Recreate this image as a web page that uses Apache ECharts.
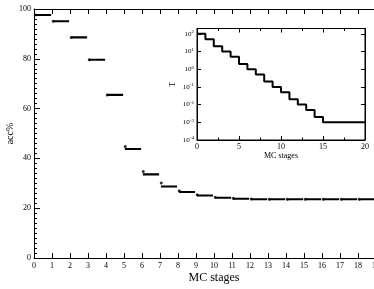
<!DOCTYPE html>
<html>
<head>
<meta charset="utf-8">
<script src="https://cdn.jsdelivr.net/npm/echarts@6/dist/echarts.min.js"></script>
<style>
html,body{margin:0;padding:0;background:#fff;}
#c{width:374px;height:289px;}
</style>
</head>
<body>
<div id="c"></div>
<script>
// Main plot: acceptance ratio per MC stage
var stages = [0,1,2,3,4,5,6,7,8,9,10,11,12,13,14,15,16,17,18,19];
var accPlateau = [97.6,95.1,88.6,79.6,65.5,43.8,33.6,28.7,26.5,25.1,24.2,23.8,23.6,23.6,23.6,23.6,23.6,23.6,23.6,23.6];
var accStart   = [97.6,95.1,88.6,79.6,65.5,44.8,34.7,30.1,27.0,25.4,24.4,24.0,23.7,23.6,23.6,23.6,23.6,23.6,23.6,23.6];
var stageFrom = 0.05, stageTo = 0.95, startOffset = 0.07;
// Inset: temperature per MC stage (log scale)
var tStages = [0,1,2,3,4,5,6,7,8,9,10,11,12,13,14,15,16,17,18,19,20];
var temperature = [100,50,20,10,5,2,1,0.5,0.2,0.1,0.05,0.02,0.01,0.005,0.002,0.001,0.001,0.001,0.001,0.001,0.001];
var mainYTicks = [0,20,40,60,80,100];

var FONT = 'Liberation Serif';
var segData = [];
stages.forEach(function(s,i){
  segData.push([s+stageFrom, accPlateau[i]]);
  segData.push([s+stageTo, accPlateau[i]]);
  segData.push([s+stageTo+0.02, '-']);
});
var startData = stages.map(function(s,i){ return [s+startOffset, accStart[i]]; });
var tData = tStages.map(function(s,i){ return [s, temperature[i]]; });

function logLabel(v){
  var e = Math.log10(v);
  var r = Math.round(e);
  if (Math.abs(e-r) > 1e-6) return '';
  return '10{s|' + r + '}';
}

var chart = echarts.init(document.getElementById('c'), null, {renderer:'canvas'});
chart.setOption({
  animation:false,
  backgroundColor:'#fff',
  grid:[
    {left:34, right:-20, top:9, bottom:31, show:false, containLabel:false, outerBoundsMode:'none'},
    {left:197, top:28.5, width:168, height:111.5, show:true, borderColor:'#000', borderWidth:1, backgroundColor:'#fff', z:3, containLabel:false, outerBoundsMode:'none'}
  ],
  xAxis:[
    {gridIndex:0, type:'value', min:0, max:20, interval:1, position:'bottom',
     name:'MC stages', nameLocation:'middle', nameGap:14, nameMoveOverlap:false,
     nameTextStyle:{fontFamily:FONT, fontSize:12, color:'#000'},
     axisLine:{show:true, onZero:false, lineStyle:{color:'#000', width:1}},
     axisTick:{show:true, inside:true, length:5, lineStyle:{color:'#000'}},
     axisLabel:{fontFamily:FONT, fontSize:8, color:'#000', margin:4, showMaxLabel:true, hideOverlap:false},
     splitLine:{show:false}},
    {gridIndex:0, type:'value', min:0, max:20, interval:1, position:'top',
     axisLine:{show:true, onZero:false, lineStyle:{color:'#000', width:1}},
     axisTick:{show:true, inside:true, length:5, lineStyle:{color:'#000'}},
     axisLabel:{show:false}, splitLine:{show:false}},
    {gridIndex:1, type:'value', min:0, max:20, interval:5, position:'bottom',
     name:'MC stages', nameLocation:'middle', nameGap:12, nameMoveOverlap:false,
     nameTextStyle:{fontFamily:FONT, fontSize:8, color:'#000'},
     axisLine:{show:true, onZero:false, lineStyle:{color:'#000', width:1}},
     axisTick:{show:true, inside:true, length:4, lineStyle:{color:'#000'}},
     minorTick:{show:true, splitNumber:2, length:2.5, lineStyle:{color:'#000'}},
     axisLabel:{fontFamily:FONT, fontSize:8, color:'#000', margin:3},
     splitLine:{show:false}, z:4},
    {gridIndex:1, type:'value', min:0, max:20, interval:5, position:'top',
     axisLine:{show:true, onZero:false, lineStyle:{color:'#000', width:1}},
     axisTick:{show:true, inside:true, length:4, lineStyle:{color:'#000'}},
     minorTick:{show:true, splitNumber:2, length:2.5, lineStyle:{color:'#000'}},
     axisLabel:{show:false}, splitLine:{show:false}, z:4}
  ],
  yAxis:[
    {gridIndex:0, type:'value', min:mainYTicks[0], max:mainYTicks[mainYTicks.length-1], interval:20, position:'left',
     name:'acc%', nameLocation:'middle', nameGap:19, nameMoveOverlap:false,
     nameTextStyle:{fontFamily:FONT, fontSize:10, color:'#000'},
     axisLine:{show:true, onZero:false, lineStyle:{color:'#000', width:1}},
     axisTick:{show:true, inside:true, length:6, lineStyle:{color:'#000'}},
     minorTick:{show:true, splitNumber:10, length:3, lineStyle:{color:'#000'}},
     axisLabel:{fontFamily:FONT, fontSize:8, color:'#000', margin:3},
     splitLine:{show:false}, minorSplitLine:{show:false}},
    {gridIndex:1, type:'log', logBase:10, min:1e-4, max:200, position:'left',
     name:'T', nameLocation:'middle', nameGap:20, nameRotate:90, nameMoveOverlap:false,
     nameTextStyle:{fontFamily:FONT, fontSize:8, color:'#000'},
     axisLine:{show:true, onZero:false, lineStyle:{color:'#000', width:1}},
     axisTick:{show:true, inside:true, length:4, lineStyle:{color:'#000'}},
     axisLabel:{fontFamily:FONT, fontSize:7, color:'#000', margin:3, formatter:logLabel,
       rich:{s:{fontFamily:FONT, fontSize:5, color:'#000', verticalAlign:'top', padding:[0,0,4,0]}}},
     splitLine:{show:false}, z:4},
    {gridIndex:1, type:'log', logBase:10, min:1e-4, max:200, position:'right',
     axisLine:{show:true, onZero:false, lineStyle:{color:'#000', width:1}},
     axisTick:{show:true, inside:true, length:4, lineStyle:{color:'#000'}},
     axisLabel:{show:false}, splitLine:{show:false}, z:4}
  ],
  series:[
    {type:'line', xAxisIndex:0, yAxisIndex:0, data:segData, showSymbol:false, symbol:'none',
     connectNulls:false, lineStyle:{color:'#000', width:2.1}, z:2},
    {type:'scatter', xAxisIndex:0, yAxisIndex:0, data:startData, symbol:'circle', symbolSize:3,
     itemStyle:{color:'#000'}, z:2},
    {type:'line', xAxisIndex:2, yAxisIndex:1, data:tData, step:'end', showSymbol:false, symbol:'none',
     lineStyle:{color:'#000', width:2}, z:5}
  ]
});
</script>
</body>
</html>
